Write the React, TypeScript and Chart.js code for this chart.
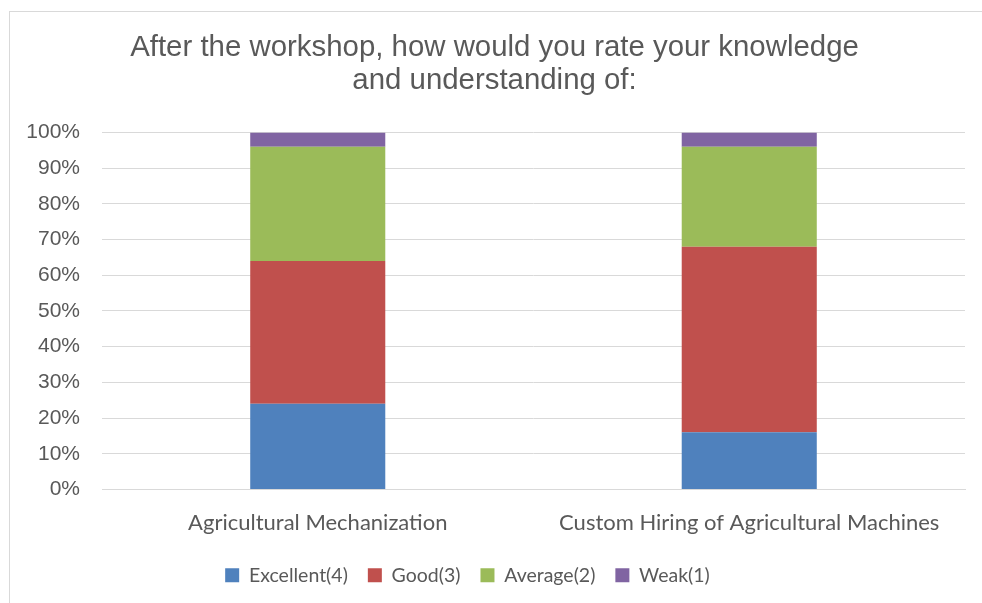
import React, { useEffect, useRef } from "react";
import { Chart, registerables } from "chart.js";

Chart.register(...registerables);

const categories = ["Agricultural Mechanization", "Custom Hiring of Agricultural Machines"];
const seriesNames = ["Excellent(4)", "Good(3)", "Average(2)", "Weak(1)"];
const excellent = [24, 16];
const good = [40, 52];
const average = [32, 28];
const weak = [4, 4];
const colors = ["#4F81BD", "#C0504D", "#9BBB59", "#8064A2"];
const yTicks = [0, 10, 20, 30, 40, 50, 60, 70, 80, 90, 100];
const titleLines = ["After the workshop, how would you rate your knowledge", "and understanding of:"];

const shiftPlugin = {
  id: "shiftBoxes",
  afterLayout(chart: any) {
    const t = chart.titleBlock;
    if (t) { t.left += 12; t.right += 12; }
    const l = chart.legend;
    if (l) { l.left -= 15; l.right -= 15; }
  },
};

export default function App() {
  const ref = useRef<HTMLCanvasElement | null>(null);
  useEffect(() => {
    document.body.style.margin = "0";
    const values = [excellent, good, average, weak];
    const chart = new Chart(ref.current!, {
      type: "bar",
      data: {
        labels: categories,
        datasets: seriesNames.map((n, i) => ({
          label: n,
          data: values[i],
          backgroundColor: colors[i],
          borderWidth: 0,
          categoryPercentage: 1,
          barPercentage: 0.313,
        })),
      },
      plugins: [shiftPlugin],
      options: {
        animation: false,
        responsive: false,
        maintainAspectRatio: false,
        layout: { padding: { left: 0, right: 17, top: 0, bottom: 8 } },
        plugins: {
          title: {
            display: true,
            text: titleLines,
            color: "#595959",
            font: { family: "'Liberation Sans', Arial, sans-serif", size: 29.4, weight: "normal", lineHeight: 1.13 },
            padding: { top: 31, bottom: 35 },
          },
          legend: {
            position: "bottom",
            labels: {
              boxWidth: 14,
              boxHeight: 14,
              padding: 20,
              color: "#595959",
              font: { family: "Lato, 'Open Sans', sans-serif", size: 19.5 },
            },
          },
          tooltip: { enabled: false },
        },
        scales: {
          x: {
            stacked: true,
            afterFit: (s: any) => { s.height = 56; },
            grid: { display: false, drawTicks: false },
            border: { color: "#d9d9d9" },
            ticks: {
              color: "#595959",
              padding: 20,
              font: { family: "Lato, 'Open Sans', sans-serif", size: 22 },
            },
          },
          y: {
            stacked: true,
            min: 0,
            max: 100,
            afterFit: (s: any) => { s.width = 102; },
            afterBuildTicks: (s: any) => { s.ticks = yTicks.map((v) => ({ value: v })); },
            grid: { color: "#d9d9d9", drawTicks: false },
            border: { display: false },
            ticks: {
              color: "#595959",
              padding: 22,
              font: { family: "'Liberation Sans', Arial, sans-serif", size: 21 },
              callback: (v: any) => v + "%",
            },
          },
        },
      },
    });
    return () => chart.destroy();
  }, []);
  return (
    <div style={{ position: "absolute", left: 0, top: 0, width: 982, height: 603, background: "#fff", overflow: "hidden" }}>
      <div style={{ position: "absolute", left: 9, top: 11, width: 1000, height: 700, borderLeft: "1px solid #d9d9d9", borderTop: "1px solid #d9d9d9" }} />
      <canvas ref={ref} width={982} height={603} style={{ position: "absolute", left: 0, top: 0 }} />
    </div>
  );
}
